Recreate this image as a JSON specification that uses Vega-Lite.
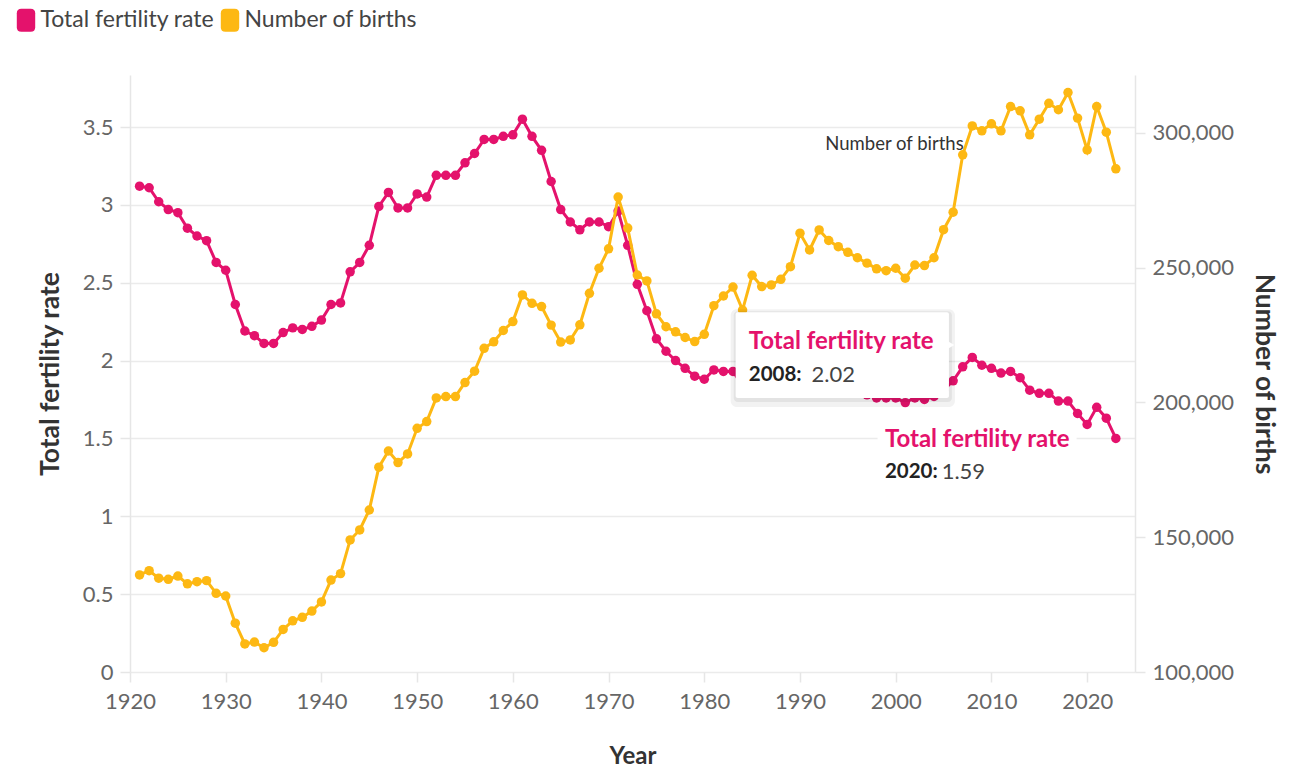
{
  "$schema": "https://vega.github.io/schema/vega-lite/v6.json",
  "width": 1005,
  "height": 597,
  "autosize": {"type": "none"},
  "padding": {"left": 130, "top": 75, "right": 164, "bottom": 97},
  "background": "white",
  "config": {
    "font": "Lato",
    "view": {"stroke": null},
    "axis": {
      "labelFont": "Lato", "labelFontSize": 22, "labelColor": "#666666", "labelFlush": false, "labelOverlap": false,
      "titleFont": "Lato", "titleFontSize": 25, "titleFontWeight": "bold", "titleColor": "#333333",
      "domainColor": "#e6e6e6", "domainWidth": 1.5, "tickColor": "#e6e6e6", "tickWidth": 1.5, "tickSize": 10,
      "gridColor": "#ebebeb", "gridWidth": 1.5
    }
  },
  "datasets": {
    "main": [
      {"year":1921,"tfr":3.12,"births":136000},{"year":1922,"tfr":3.11,"births":137600},{"year":1923,"tfr":3.02,"births":134800},
      {"year":1924,"tfr":2.97,"births":134400},{"year":1925,"tfr":2.95,"births":135600},{"year":1926,"tfr":2.85,"births":132700},
      {"year":1927,"tfr":2.80,"births":133500},{"year":1928,"tfr":2.77,"births":133900},{"year":1929,"tfr":2.63,"births":129200},
      {"year":1930,"tfr":2.58,"births":128200},{"year":1931,"tfr":2.36,"births":118100},{"year":1932,"tfr":2.19,"births":110400},
      {"year":1933,"tfr":2.16,"births":111100},{"year":1934,"tfr":2.11,"births":109000},{"year":1935,"tfr":2.11,"births":111000},
      {"year":1936,"tfr":2.18,"births":115800},{"year":1937,"tfr":2.21,"births":119000},{"year":1938,"tfr":2.20,"births":120300},
      {"year":1939,"tfr":2.22,"births":122600},{"year":1940,"tfr":2.26,"births":126000},{"year":1941,"tfr":2.36,"births":134100},
      {"year":1942,"tfr":2.37,"births":136500},{"year":1943,"tfr":2.57,"births":149000},{"year":1944,"tfr":2.63,"births":152700},
      {"year":1945,"tfr":2.74,"births":160100},{"year":1946,"tfr":2.99,"births":176000},{"year":1947,"tfr":3.08,"births":182000},
      {"year":1948,"tfr":2.98,"births":177700},{"year":1949,"tfr":2.98,"births":180900},{"year":1950,"tfr":3.07,"births":190400},
      {"year":1951,"tfr":3.05,"births":192900},{"year":1952,"tfr":3.19,"births":201700},{"year":1953,"tfr":3.19,"births":202200},
      {"year":1954,"tfr":3.19,"births":202200},{"year":1955,"tfr":3.27,"births":207400},{"year":1956,"tfr":3.33,"births":211600},
      {"year":1957,"tfr":3.42,"births":220100},{"year":1958,"tfr":3.42,"births":222500},{"year":1959,"tfr":3.44,"births":226700},
      {"year":1960,"tfr":3.45,"births":230000},{"year":1961,"tfr":3.55,"births":239900},{"year":1962,"tfr":3.44,"births":236800},
      {"year":1963,"tfr":3.35,"births":235600},{"year":1964,"tfr":3.15,"births":228700},{"year":1965,"tfr":2.97,"births":222400},
      {"year":1966,"tfr":2.89,"births":223200},{"year":1967,"tfr":2.84,"births":228800},{"year":1968,"tfr":2.89,"births":240500},
      {"year":1969,"tfr":2.89,"births":249800},{"year":1970,"tfr":2.86,"births":257000},{"year":1971,"tfr":2.96,"births":276200},
      {"year":1972,"tfr":2.74,"births":264700},{"year":1973,"tfr":2.49,"births":247300},{"year":1974,"tfr":2.32,"births":245100},
      {"year":1975,"tfr":2.14,"births":232900},{"year":1976,"tfr":2.06,"births":228100},{"year":1977,"tfr":2.00,"births":226200},
      {"year":1978,"tfr":1.95,"births":224100},{"year":1979,"tfr":1.90,"births":222600},{"year":1980,"tfr":1.88,"births":225300},
      {"year":1981,"tfr":1.94,"births":235900},{"year":1982,"tfr":1.93,"births":239500},{"year":1983,"tfr":1.93,"births":242800},
      {"year":1984,"tfr":1.84,"births":234300},{"year":1985,"tfr":1.89,"births":247200},{"year":1986,"tfr":1.87,"births":243000},
      {"year":1987,"tfr":1.85,"births":243600},{"year":1988,"tfr":1.84,"births":245700},{"year":1989,"tfr":1.84,"births":250400},
      {"year":1990,"tfr":1.91,"births":262800},{"year":1991,"tfr":1.85,"births":256600},{"year":1992,"tfr":1.89,"births":264000},
      {"year":1993,"tfr":1.86,"births":260100},{"year":1994,"tfr":1.85,"births":257800},{"year":1995,"tfr":1.82,"births":255700},
      {"year":1996,"tfr":1.80,"births":253700},{"year":1997,"tfr":1.78,"births":251700},{"year":1998,"tfr":1.76,"births":249600},
      {"year":1999,"tfr":1.76,"births":248900},{"year":2000,"tfr":1.76,"births":249800},{"year":2001,"tfr":1.73,"births":246100},
      {"year":2002,"tfr":1.76,"births":251000},{"year":2003,"tfr":1.75,"births":250800},{"year":2004,"tfr":1.77,"births":253700},
      {"year":2005,"tfr":1.81,"births":264100},{"year":2006,"tfr":1.87,"births":270600},{"year":2007,"tfr":1.96,"births":291900},
      {"year":2008,"tfr":2.02,"births":302600},{"year":2009,"tfr":1.97,"births":300800},{"year":2010,"tfr":1.95,"births":303400},
      {"year":2011,"tfr":1.92,"births":300800},{"year":2012,"tfr":1.93,"births":309800},{"year":2013,"tfr":1.89,"births":308200},
      {"year":2014,"tfr":1.81,"births":299300},{"year":2015,"tfr":1.79,"births":305100},{"year":2016,"tfr":1.79,"births":311000},
      {"year":2017,"tfr":1.74,"births":308600},{"year":2018,"tfr":1.74,"births":315000},{"year":2019,"tfr":1.66,"births":305500},
      {"year":2020,"tfr":1.59,"births":293700},{"year":2021,"tfr":1.70,"births":309800},{"year":2022,"tfr":1.63,"births":300300},
      {"year":2023,"tfr":1.50,"births":286700}
    ],
    "box": [{"x1":1983.28,"x2":2005.56,"y1":2.31,"y2":1.76}],
    "halo": [{"x1":1998.1,"x2":2018.9,"y1":1.545,"y2":1.435}],
    "pointer": [{"year":2005.4,"tfr":2.1}],
    "labels": [
      {"year":1984.65,"tfr":2.12,"text":"Total fertility rate","role":"head"},
      {"year":1984.65,"tfr":1.91,"text":"2008:","role":"key"},
      {"year":1991.2,"tfr":1.91,"text":"2.02","role":"val"},
      {"year":1998.87,"tfr":1.49,"text":"Total fertility rate","role":"head"},
      {"year":1998.87,"tfr":1.285,"text":"2020:","role":"key"},
      {"year":2004.8,"tfr":1.285,"text":"1.59","role":"val"}
    ],
    "births_note": [{"year":2007.1,"births":295900,"text":"Number of births"}]
  },
  "layer": [
    {
      "data": {"name": "main"},
      "encoding": {
        "x": {"field":"year","type":"quantitative","scale":{"domain":[1920,2025],"nice":false,"zero":false},
              "axis":{"title":"Year","titleFontSize":24,"values":[1920,1930,1940,1950,1960,1970,1980,1990,2000,2010,2020],"format":"d","grid":false,"domain":false,"labelPadding":9,"titlePadding":32}},
        "y": {"field":"tfr","type":"quantitative","scale":{"domain":[0,3.834],"nice":false,"zero":false},
              "axis":{"title":"Total fertility rate","titleFontSize":26.5,"orient":"left","values":[0,0.5,1,1.5,2,2.5,3,3.5],"format":"~g","grid":true,"labelPadding":7,"titlePadding":18}},
        "color": {"datum":"Total fertility rate","type":"nominal",
                  "scale":{"domain":["Total fertility rate","Number of births"],"range":["#E4126C","#FDB813"]},
                  "legend":{"orient":"none","legendX":-115.5,"legendY":-66.5,"direction":"horizontal","title":null,"padding":0,
                            "symbolType":"M-0.4,-1L0.4,-1Q0.8,-1 0.8,-0.6L0.8,0.6Q0.8,1 0.4,1L-0.4,1Q-0.8,1 -0.8,0.6L-0.8,-0.6Q-0.8,-1 -0.4,-1Z",
                            "symbolSize":529,"symbolStrokeWidth":0,"labelFontSize":23,"labelLimit":500,"labelColor":"#444444","labelOffset":3,"columnPadding":4,
                            "encode":{"symbols":{"update":{"fill":{"scale":"color","field":"value"},"opacity":{"value":1},"strokeWidth":{"value":0},
                                      "shape":{"value":"M-0.4,-1L0.4,-1Q0.8,-1 0.8,-0.6L0.8,0.6Q0.8,1 0.4,1L-0.4,1Q-0.8,1 -0.8,0.6L-0.8,-0.6Q-0.8,-1 -0.4,-1Z"},
                                      "size":{"value":529}}}}}}
      },
      "layer": [
        {"mark": {"type":"line","strokeWidth":3}},
        {"mark": {"type":"circle","size":90,"opacity":1}}
      ]
    },
    {
      "data": {"name": "main"},
      "encoding": {
        "x": {"field":"year","type":"quantitative","scale":{"domain":[1920,2025],"nice":false,"zero":false},
              "axis":{"title":"Year","titleFontSize":24,"values":[1920,1930,1940,1950,1960,1970,1980,1990,2000,2010,2020],"format":"d","grid":false,"domain":false,"labelPadding":9,"titlePadding":32}},
        "y": {"field":"births","type":"quantitative","scale":{"domain":[100000,321500],"nice":false,"zero":false},
              "axis":{"title":"Number of births","titleFontSize":26.5,"orient":"right","values":[100000,150000,200000,250000,300000],"format":",d","grid":false,"labelPadding":7,"titlePadding":16}},
        "color": {"datum":"Number of births","type":"nominal"}
      },
      "layer": [
        {"mark": {"type":"line","strokeWidth":3}},
        {"mark": {"type":"circle","size":90,"opacity":1}}
      ]
    },
    {
      "encoding": {
        "x": {"field":"year","type":"quantitative","scale":{"domain":[1920,2025],"nice":false,"zero":false},
              "axis":{"title":"Year","titleFontSize":24,"values":[1920,1930,1940,1950,1960,1970,1980,1990,2000,2010,2020],"format":"d","grid":false,"domain":false,"labelPadding":9,"titlePadding":32}},
        "y": {"field":"tfr","type":"quantitative","scale":{"domain":[0,3.834],"nice":false,"zero":false},"axis":null}
      },
      "layer": [
        {
          "data": {"name":"box"},
          "mark": {"type":"rect","fill":"#000000","opacity":0.05,"xOffset":-5,"x2Offset":6,"yOffset":-3,"y2Offset":9,"cornerRadius":6},
          "encoding": {"x":{"field":"x1","type":"quantitative"},"x2":{"field":"x2"},"y":{"field":"y1","type":"quantitative"},"y2":{"field":"y2"}}
        },
        {
          "data": {"name":"box"},
          "mark": {"type":"rect","fill":"#000000","opacity":0.06,"xOffset":-2,"x2Offset":3,"yOffset":-1,"y2Offset":4,"cornerRadius":4},
          "encoding": {"x":{"field":"x1","type":"quantitative"},"x2":{"field":"x2"},"y":{"field":"y1","type":"quantitative"},"y2":{"field":"y2"}}
        },
        {
          "data": {"name":"box"},
          "mark": {"type":"rect","fill":"#ffffff","cornerRadius":2},
          "encoding": {"x":{"field":"x1","type":"quantitative"},"x2":{"field":"x2"},"y":{"field":"y1","type":"quantitative"},"y2":{"field":"y2"}}
        },
        {
          "data": {"name":"halo"},
          "mark": {"type":"rect","fill":"#ffffff"},
          "encoding": {"x":{"field":"x1","type":"quantitative"},"x2":{"field":"x2"},"y":{"field":"y1","type":"quantitative"},"y2":{"field":"y2"}}
        },
        {
          "data": {"name":"pointer"},
          "mark": {"type":"point","shape":"triangle-right","filled":true,"fill":"#ffffff","stroke":null,"size":260,"opacity":1},
          "encoding": {"x":{"field":"year","type":"quantitative"},"y":{"field":"tfr","type":"quantitative"}}
        },
        {
          "data": {"name":"labels"},
          "transform": [{"filter":"datum.role == 'head'"}],
          "mark": {"type":"text","align":"left","baseline":"middle","fontSize":24,"fontWeight":"bold","fill":"#E4126C"},
          "encoding": {"x":{"field":"year","type":"quantitative"},"y":{"field":"tfr","type":"quantitative"},"text":{"field":"text"}}
        },
        {
          "data": {"name":"labels"},
          "transform": [{"filter":"datum.role == 'key'"}],
          "mark": {"type":"text","align":"left","baseline":"middle","fontSize":20.5,"fontWeight":"bold","fill":"#222222"},
          "encoding": {"x":{"field":"year","type":"quantitative"},"y":{"field":"tfr","type":"quantitative"},"text":{"field":"text"}}
        },
        {
          "data": {"name":"labels"},
          "transform": [{"filter":"datum.role == 'val'"}],
          "mark": {"type":"text","align":"left","baseline":"middle","fontSize":22,"fill":"#444444"},
          "encoding": {"x":{"field":"year","type":"quantitative"},"y":{"field":"tfr","type":"quantitative"},"text":{"field":"text"}}
        }
      ]
    },
    {
      "data": {"name":"births_note"},
      "mark": {"type":"text","align":"right","baseline":"middle","fontSize":18.5,"fill":"#333333"},
      "encoding": {
        "x": {"field":"year","type":"quantitative","scale":{"domain":[1920,2025],"nice":false,"zero":false},
              "axis":{"title":"Year","titleFontSize":24,"values":[1920,1930,1940,1950,1960,1970,1980,1990,2000,2010,2020],"format":"d","grid":false,"domain":false,"labelPadding":9,"titlePadding":32}},
        "y": {"field":"births","type":"quantitative","scale":{"domain":[100000,321500],"nice":false,"zero":false},"axis":null},
        "text": {"field":"text"}
      }
    }
  ],
  "resolve": {"scale": {"y": "independent"}}
}
